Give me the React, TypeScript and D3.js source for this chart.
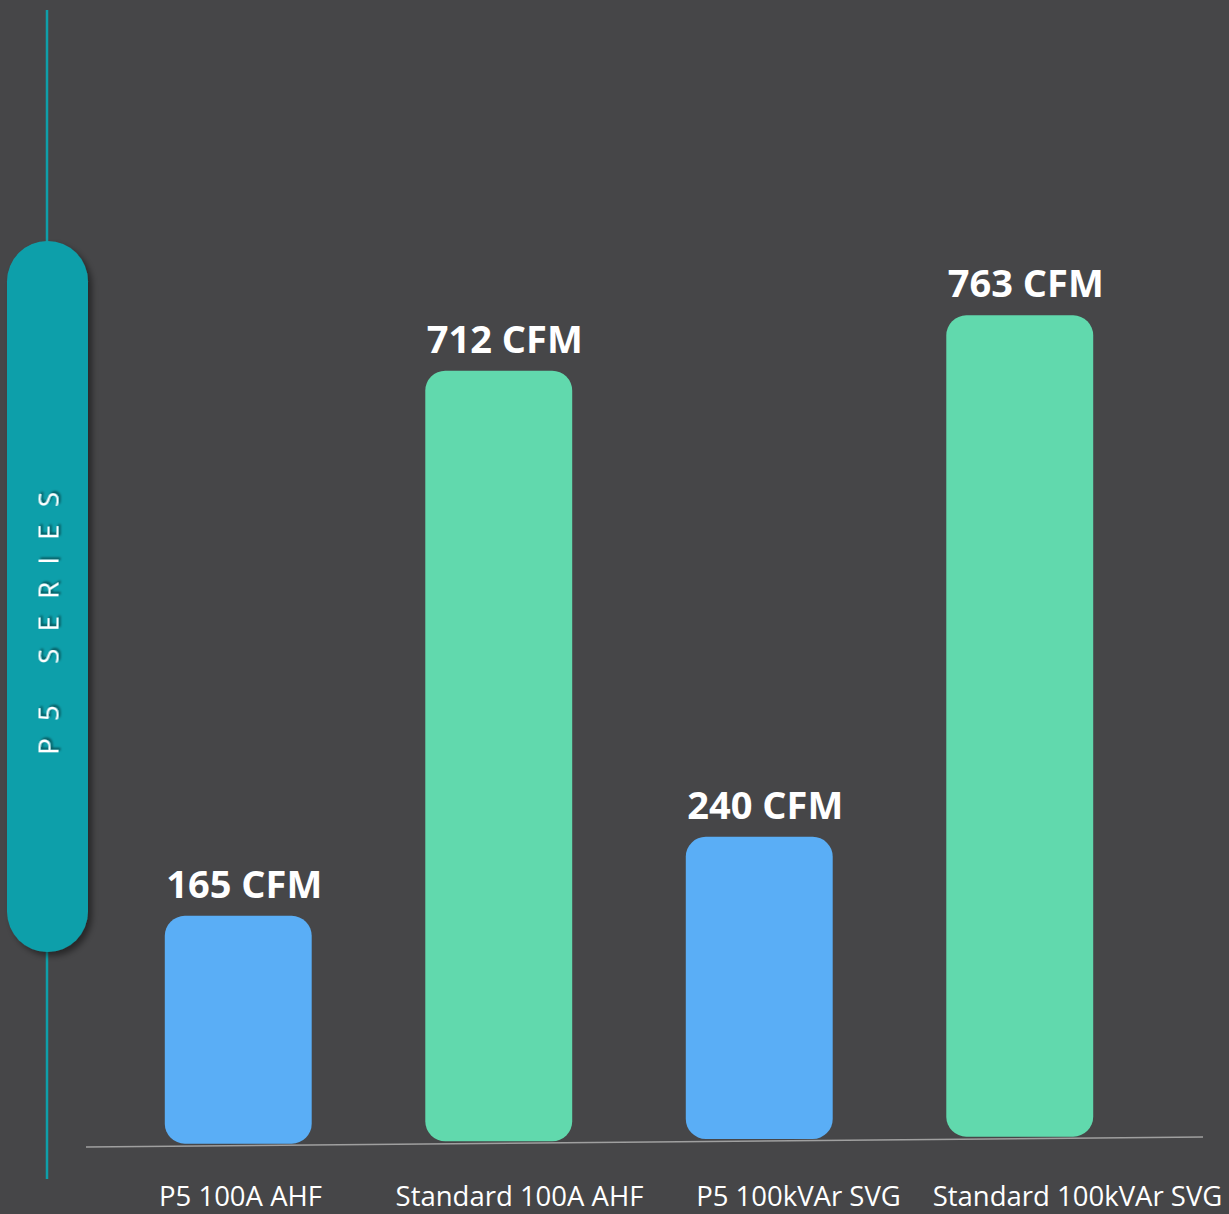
import React, { useEffect, useRef } from 'react';
import * as d3 from 'd3';

// chart data
const categories = ['P5 100A AHF', 'Standard 100A AHF', 'P5 100kVAr SVG', 'Standard 100kVAr SVG'];
const airflow = [165, 712, 240, 763];
const unit = 'CFM';
const series = ['P5', 'Standard', 'P5', 'Standard'];
const seriesTitle = 'P5 SERIES';

const width = 1229;
const height = 1214;
const colors: Record<string, string> = { P5: '#5aaef6', Standard: '#61d9ad' };

const App: React.FC = () => {
  const axisRef = useRef<SVGGElement>(null);

  // bars
  const x = d3.scaleBand<string>()
    .domain(categories)
    .range([108, 1150])
    .paddingInner(0.436)
    .paddingOuter(0.218);

  // category labels sit on their own point scale
  const xLabel = d3.scalePoint<string>()
    .domain(categories)
    .range([240, 1077]);

  // bar height for a value
  const h = d3.scaleLinear().domain([0, 800]).range([64, 858]);

  // slightly tilted baseline
  const base = d3.scaleLinear().domain([86, 1203]).range([1147, 1137]);

  useEffect(() => {
    if (!axisRef.current) return;
    const g = d3.select(axisRef.current);
    g.selectAll('*').remove();
    g.call(d3.axisBottom(xLabel).tickSize(0).tickPadding(0));
    g.select('.domain').remove();
    g.selectAll('text')
      .attr('fill', '#ffffff')
      .attr('font-size', 27.5)
      .attr('font-family', '"Open Sans", "Noto Sans", sans-serif')
      .attr('dy', 0)
      .attr('y', 0);
  }, []);

  const pill = { x: 7, y: 241, w: 81, h: 711 };

  return (
    <svg
      width={width}
      height={height}
      style={{ position: 'absolute', left: 0, top: 0, display: 'block' }}
    >
      <defs>
        <filter id="pillShadow" x="-30%" y="-10%" width="160%" height="120%">
          <feDropShadow dx="4" dy="4" stdDeviation="3" floodColor="#000" floodOpacity="0.45" />
        </filter>
        <filter id="textShadow" x="-20%" y="-20%" width="140%" height="140%">
          <feDropShadow dx="2" dy="2" stdDeviation="1" floodColor="#000" floodOpacity="0.5" />
        </filter>
      </defs>
      <rect width={width} height={height} fill="#464648" />

      {/* side line and pill */}
      <line x1={47} x2={47} y1={10} y2={1179} stroke="#0e9fa9" strokeWidth={2.5} />
      <rect
        x={pill.x}
        y={pill.y}
        width={pill.w}
        height={pill.h}
        rx={pill.w / 2}
        fill="#0f9faa"
        filter="url(#pillShadow)"
      />
      <text
        transform={`translate(${pill.x + pill.w / 2},615) rotate(-90)`}
        textAnchor="middle"
        dominantBaseline="central"
        fill="#ffffff"
        fontSize={28}
        fontWeight={400}
        letterSpacing={17}
        fontFamily='"Open Sans", "Noto Sans", sans-serif'
        filter="url(#textShadow)"
      >
        {seriesTitle}
      </text>

      {/* baseline */}
      <line x1={86} x2={1203} y1={base(86)} y2={base(1203)} stroke="#a0a0a0" strokeWidth={1.5} />

      {/* bars */}
      {categories.map((c, i) => {
        const bx = x(c) as number;
        const cx = bx + x.bandwidth() / 2;
        const bottom = base(cx) - 2;
        const top = bottom - h(airflow[i]);
        return (
          <g key={c}>
            <rect
              x={bx}
              y={top}
              width={x.bandwidth()}
              height={bottom - top}
              rx={20}
              fill={colors[series[i]]}
            />
            <text
              x={cx + 6}
              y={top - 18}
              textAnchor="middle"
              fill="#ffffff"
              fontSize={38}
              fontWeight={700}
              fontFamily='"Open Sans", "Noto Sans", sans-serif'
            >
              {`${airflow[i]} ${unit}`}
            </text>
          </g>
        );
      })}

      {/* category labels */}
      <g ref={axisRef} transform="translate(0,1206)" />
    </svg>
  );
};

export default App;
